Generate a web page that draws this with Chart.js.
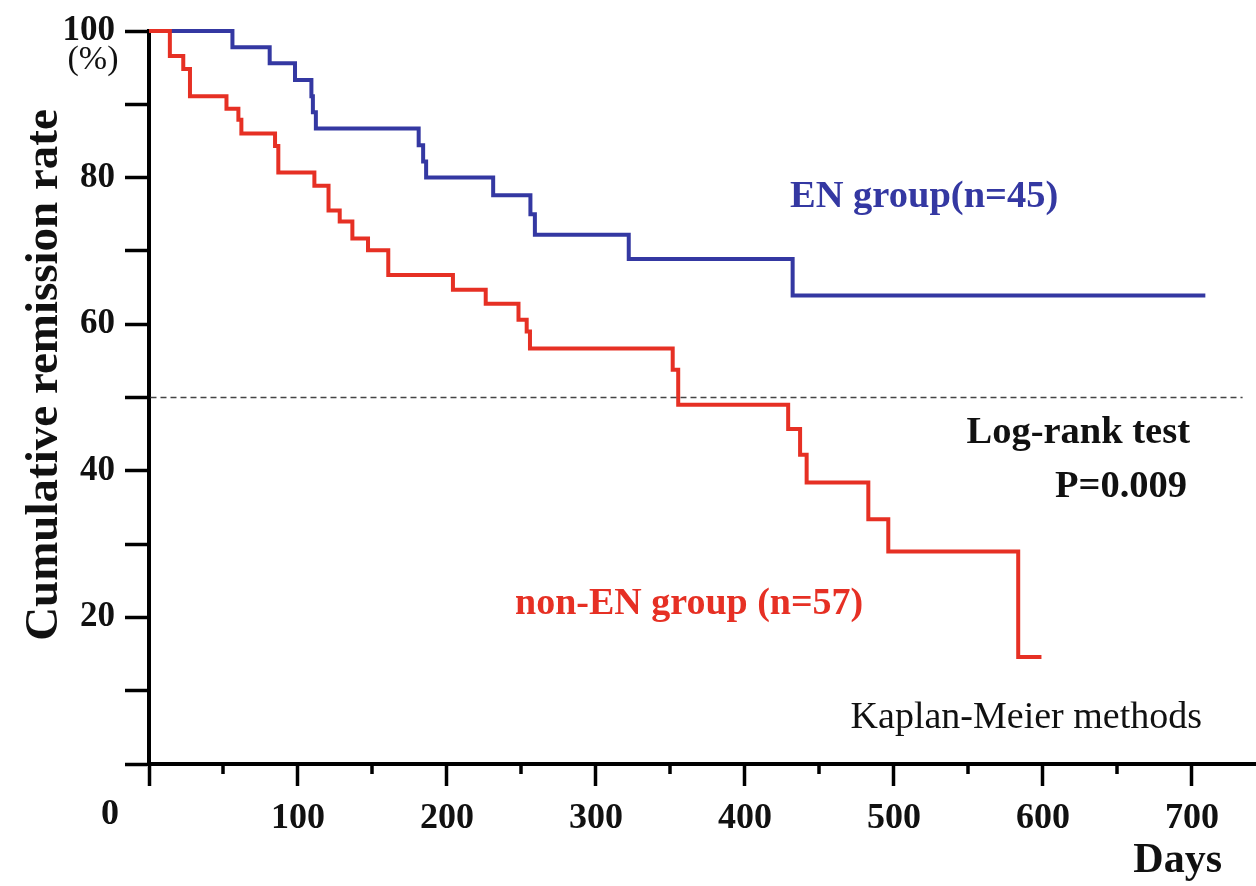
<!DOCTYPE html>
<html>
<head>
<meta charset="utf-8">
<script src="https://cdn.jsdelivr.net/npm/chart.js@4.4.0/dist/chart.umd.min.js"></script>
<style>
  html, body { margin: 0; padding: 0; background: #ffffff; }
  #wrap { width: 1256px; height: 886px; position: relative; }
</style>
</head>
<body>
<div id="wrap"><canvas id="c" width="1256" height="886"></canvas></div>
<script>
// ---- data ----
const enDays  = [0, 56, 81, 98, 109, 110, 112, 181, 184, 186, 231, 256, 259, 322, 432, 709];
const enRate  = [100, 97.8, 95.6, 93.3, 91.1, 88.9, 86.7, 84.4, 82.2, 80.0, 77.6, 75.0, 72.2, 68.9, 63.9, 63.9];

const nonEnDays = [0, 14, 23, 27.5, 52, 60, 62, 84.6, 86.8, 111, 120.5, 128, 136.5, 147, 160.6, 204, 226, 248, 253.5, 255.7, 351.5, 355.2, 429, 437, 441.4, 482.8, 496.2, 583.4, 599];
const nonEnRate = [100, 96.6, 94.8, 91.1, 89.4, 87.9, 86.0, 84.3, 80.7, 78.9, 75.5, 74.0, 71.7, 70.1, 66.7, 64.7, 62.8, 60.6, 59.0, 56.7, 53.8, 49.0, 45.7, 42.2, 38.4, 33.4, 29.0, 14.6, 14.6];

const refLineDays = [1, 734];
const refLineRate = [50, 50];

const xMajorTicks = [0, 100, 200, 300, 400, 500, 600, 700];
const xMinorTicks = [50, 150, 250, 350, 450, 550, 650];
const yLabelTicks = [20, 40, 60, 80, 100];

const enLabel = 'EN group(n=45)';
const nonEnLabel = 'non-EN group (n=57)';

const BLUE = 'rgb(52,56,162)';
const RED = 'rgb(230,48,36)';
const SERIF = '"Liberation Serif", "Times New Roman", serif';

const toPts = (xs, ys) => xs.map((x, i) => ({ x: x, y: ys[i] }));

const annotations = {
  id: 'annotations',
  afterDraw(chart) {
    const ctx = chart.ctx;
    const xs = chart.scales.x;
    const area = chart.chartArea;
    ctx.save();
    // minor x ticks
    ctx.strokeStyle = '#000';
    ctx.lineWidth = 3.5;
    xMinorTicks.forEach(v => {
      const px = Math.round(xs.getPixelForValue(v));
      ctx.beginPath();
      ctx.moveTo(px, area.bottom);
      ctx.lineTo(px, area.bottom + 10);
      ctx.stroke();
    });
    // texts
    const txt = (s, x, y, font, color, align) => {
      ctx.font = font; ctx.fillStyle = color; ctx.textAlign = align; ctx.textBaseline = 'middle';
      ctx.fillText(s, x, y);
    };
    txt(enLabel, 790, 197, 'bold 38.5px ' + SERIF, BLUE, 'left');
    txt(nonEnLabel, 515, 604, 'bold 38px ' + SERIF, RED, 'left');
    txt('Log-rank test', 1190, 433, 'bold 38.5px ' + SERIF, '#111', 'right');
    txt('P=0.009', 1187, 487, 'bold 38.5px ' + SERIF, '#111', 'right');
    txt('Kaplan-Meier methods', 1202, 718, '38px ' + SERIF, '#111', 'right');
    txt('Days', 1222, 861, 'bold 42px ' + SERIF, '#111', 'right');
    txt('(%)', 93, 60, '34px ' + SERIF, '#111', 'center');
    txt('0', 110, 815, 'bold 36px ' + SERIF, '#111', 'center');
    // y axis title
    ctx.save();
    ctx.translate(45, 375);
    ctx.rotate(-Math.PI / 2);
    txt('Cumulative remission rate', 0, 0, 'bold 47px ' + SERIF, '#111', 'center');
    ctx.restore();
    ctx.restore();
  }
};

new Chart(document.getElementById('c'), {
  type: 'line',
  data: {
    datasets: [
      {
        label: 'ref', data: toPts(refLineDays, refLineRate),
        borderColor: '#444', borderWidth: 1.5, borderDash: [6, 4],
        pointRadius: 0, fill: false
      },
      {
        label: nonEnLabel, data: toPts(nonEnDays, nonEnRate),
        borderColor: RED, borderWidth: 4, stepped: 'before',
        pointRadius: 0, fill: false, clip: false, borderJoinStyle: 'miter'
      },
      {
        label: enLabel, data: toPts(enDays, enRate),
        borderColor: BLUE, borderWidth: 4, stepped: 'before',
        pointRadius: 0, fill: false, clip: false, borderJoinStyle: 'miter'
      }
    ]
  },
  options: {
    responsive: false,
    animation: false,
    devicePixelRatio: 1,
    layout: { padding: { top: 31, right: 0, left: 0, bottom: 0 } },
    plugins: { legend: { display: false }, tooltip: { enabled: false } },
    scales: {
      x: {
        type: 'linear', min: 0, max: 743,
        afterFit: s => { s.height = 122; },
        afterBuildTicks: s => { s.ticks = xMajorTicks.map(v => ({ value: v })); },
        border: { color: '#000', width: 4 },
        grid: { drawOnChartArea: false, drawTicks: true, tickLength: 22, tickWidth: 3.5, tickColor: '#000' },
        ticks: {
          autoSkip: false, maxRotation: 0, padding: 11, color: '#111',
          font: { family: SERIF, size: 36, weight: 'bold' },
          callback: v => (v === 0 ? '' : String(v))
        }
      },
      y: {
        type: 'linear', min: 0, max: 100,
        afterFit: s => { s.width = 149; },
        border: { color: '#000', width: 4 },
        grid: { drawOnChartArea: false, drawTicks: true, tickLength: 24, tickWidth: 3.5, tickColor: '#000' },
        ticks: {
          stepSize: 10, autoSkip: false, padding: 10, color: '#111',
          font: { family: SERIF, size: 35, weight: 'bold' },
          callback: v => (yLabelTicks.includes(v) ? String(v) : '')
        }
      }
    }
  },
  plugins: [annotations]
});
</script>
</body>
</html>
